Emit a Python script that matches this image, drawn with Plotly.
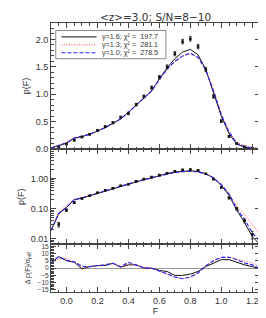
import plotly.graph_objects as go
from plotly.subplots import make_subplots

# ---- data ----
F_data = [-0.05, 0.0, 0.05, 0.1, 0.15, 0.2, 0.25, 0.3, 0.35, 0.4, 0.45, 0.5, 0.55,
          0.6, 0.65, 0.7, 0.75, 0.8, 0.85, 0.9, 0.95, 1.0, 1.05, 1.1, 1.15, 1.2, 1.25]
p_data = [0.03, 0.09, 0.16, 0.22, 0.27, 0.34, 0.41, 0.48, 0.58, 0.65, 0.81, 0.96, 1.12,
          1.31, 1.50, 1.74, 1.96, 2.01, 1.87, 1.45, 0.96, 0.51, 0.23, 0.10, 0.040, 0.014, 0.009]
p_err = [0.005, 0.008, 0.010, 0.012, 0.013, 0.015, 0.017, 0.019, 0.021, 0.023, 0.025, 0.027, 0.030,
         0.032, 0.035, 0.038, 0.040, 0.040, 0.040, 0.038, 0.033, 0.026, 0.017, 0.010, 0.006, 0.004, 0.002]

F_model = [-0.1, -0.05, 0.0, 0.05, 0.1, 0.15, 0.2, 0.25, 0.3, 0.35, 0.4, 0.45, 0.5, 0.55,
           0.6, 0.65, 0.7, 0.75, 0.8, 0.85, 0.9, 0.95, 1.0, 1.05, 1.1, 1.15, 1.2, 1.25]
p_g16 = [0.019, 0.07, 0.11, 0.20, 0.226, 0.27, 0.33, 0.39, 0.47, 0.55, 0.67, 0.80, 0.92, 1.06,
         1.28, 1.48, 1.65, 1.77, 1.82, 1.72, 1.45, 1.04, 0.60, 0.28, 0.09, 0.035, 0.012, 0.0065]
p_g13 = [0.020, 0.075, 0.13, 0.21, 0.235, 0.275, 0.33, 0.39, 0.47, 0.55, 0.67, 0.80, 0.93, 1.07,
         1.27, 1.45, 1.59, 1.69, 1.74, 1.67, 1.45, 1.08, 0.64, 0.32, 0.12, 0.065, 0.030, 0.014]
p_g10 = [0.019, 0.07, 0.11, 0.20, 0.23, 0.27, 0.33, 0.39, 0.47, 0.55, 0.67, 0.80, 0.92, 1.06,
         1.27, 1.46, 1.60, 1.70, 1.75, 1.67, 1.44, 1.06, 0.63, 0.31, 0.10, 0.045, 0.016, 0.008]

d_g16 = [3.6, 8.0, 5.2, 4.1, -0.5, 1.1, 1.8, 1.8, 3.4, 0.7, 2.3, 2.3, 0.2, 0.0,
         -1.6, -2.3, -5.0, -5.0, -4.1, -2.3, 1.1, 3.6, 5.9, 5.9, 4.1, 2.3, 1.1, -0.5]
d_g13 = [3.0, 6.5, 6.8, 3.6, 0.7, 1.1, 1.8, 2.0, 3.2, 1.0, 3.0, 2.5, 0.5, 0.0,
         -2.2, -4.2, -6.3, -7.3, -6.4, -3.6, 1.5, 5.0, 7.3, 7.6, 6.4, 4.8, 3.6, 0.5]
d_g10 = [3.6, 8.0, 5.5, 4.5, 1.3, 1.1, 1.8, 2.3, 3.4, 1.0, 4.1, 2.3, 0.2, 0.0,
         -1.8, -3.9, -6.1, -7.3, -6.1, -3.4, 1.8, 5.2, 7.5, 7.5, 5.9, 3.6, 2.3, -0.5]

labels = ["γ=1.6; χ² =  197.7", "γ=1.3; χ² =  281.1", "γ=1.0; χ² =  278.5"]
title_text = "&lt;z&gt;=3.0; S/N=8−10"

x_ticks = [0.0, 0.2, 0.4, 0.6, 0.8, 1.0, 1.2]
y1_ticks = [0.0, 0.5, 1.0, 1.5, 2.0]
y2_ticks = [0.01, 0.1, 1.0]
y2_ticktext = ["0.01", "0.10", "1.00"]
y3_ticks = [-15, -10, -5, 0, 5, 10, 15]

# ---- styles ----
FONT = "Liberation Sans, Arial, sans-serif"
TFONT = "DejaVu Sans, sans-serif"
AX = "#444444"
TXT = "#333333"
styles = [
    dict(color="#111111", width=1.0, dash="solid"),
    dict(color="#ff4040", width=1.0, dash="1px,1.5px"),
    dict(color="#2020ff", width=1.1, dash="4px,2px"),
]
models = [p_g16, p_g13, p_g10]
resids = [d_g16, d_g13, d_g10]

fig = make_subplots(rows=3, cols=1, shared_xaxes=True, vertical_spacing=0,
                    row_heights=[127, 96, 48])

for row in (1, 2):
    for m, st in zip(models, styles):
        fig.add_trace(go.Scatter(x=F_model, y=m, mode="lines", line=st,
                                 showlegend=False, hoverinfo="skip"), row=row, col=1)
    fig.add_trace(go.Scatter(x=F_data, y=p_data, mode="markers",
                             marker=dict(symbol="square", size=2.6, color="#111111"),
                             error_y=dict(type="data", array=p_err, color="#111111",
                                          thickness=0.8, width=1.3),
                             showlegend=False), row=row, col=1)

for d, st in zip(resids, styles):
    fig.add_trace(go.Scatter(x=F_model, y=d, mode="lines", line=st,
                             showlegend=False), row=3, col=1)

axcommon = dict(showgrid=False, zeroline=False, showline=True, linecolor=AX, linewidth=1,
                mirror="ticks", ticks="inside", ticklen=5, tickcolor=AX, tickwidth=0.8,
                tickfont=dict(family=FONT, size=9, color=TXT))

for r in (1, 2, 3):
    fig.update_xaxes(**axcommon, range=[-0.1, 1.25], tickvals=x_ticks,
                     minor=dict(ticks="inside", ticklen=2.5, dtick=0.05, tickcolor=AX),
                     row=r, col=1)
fig.update_xaxes(ticktext=[f"{v:.1f}" for v in x_ticks], showticklabels=True,
                 title=dict(text="F", font=dict(family=FONT, size=9, color=TXT), standoff=2),
                 row=3, col=1)

fig.update_yaxes(**axcommon, range=[0, 2.3], tickvals=y1_ticks,
                 ticktext=[f"{v:.1f}" for v in y1_ticks],
                 minor=dict(ticks="inside", ticklen=2.5, dtick=0.1, tickcolor=AX),
                 title=dict(text="p(F)", font=dict(family=FONT, size=9, color=TXT), standoff=4),
                 row=1, col=1)
fig.update_yaxes(**axcommon, type="log", range=[-2.18, 0.98], tickvals=y2_ticks,
                 ticktext=y2_ticktext,
                 minor=dict(ticks="inside", ticklen=2.5, tickcolor=AX,
                            tickvals=[k * 10 ** e for e in (-3, -2, -1, 0) for k in range(2, 10)]),
                 title=dict(text="p(F)", font=dict(family=FONT, size=9, color=TXT), standoff=4),
                 row=2, col=1)
fig.update_yaxes(**axcommon, range=[-16.5, 16.5], tickvals=y3_ticks,
                 minor=dict(ticks="inside", ticklen=2.5, dtick=1, tickcolor=AX),
                 row=3, col=1)
fig.update_yaxes(tickfont=dict(family=FONT, size=6.5, color=TXT),
                 title=dict(text="Δ p(F)/σ<sub>pdf</sub>", font=dict(family=FONT, size=7, color=TXT),
                            standoff=6),
                 zeroline=True, zerolinecolor="#999999", zerolinewidth=1, row=3, col=1)

# ---- hand-made compact legend (paper coords) ----
W, H = 220.0, 271.0
def px(x):
    return (x - 32) / W
def py(y):
    return (286 - y) / H

fig.add_shape(type="rect", xref="paper", yref="paper",
              x0=px(37), x1=px(153), y0=py(51), y1=py(22.5),
              line=dict(color="#888888", width=1), fillcolor="white", layer="above")
rows_y = [29, 37, 45]
for lab, st, yy in zip(labels, styles, rows_y):
    fig.add_shape(type="line", xref="paper", yref="paper",
                  x0=px(43), x1=px(80), y0=py(yy), y1=py(yy), line=st, layer="above")
    fig.add_annotation(xref="paper", yref="paper", x=px(84), y=py(yy), text=lab,
                       showarrow=False, xanchor="left", yanchor="middle",
                       font=dict(family=FONT, size=7.2, color=TXT))

fig.update_layout(
    width=266, height=318,
    margin=dict(l=32, r=14, t=15, b=32),
    paper_bgcolor="white", plot_bgcolor="white",
    showlegend=False,
    title=dict(text=title_text, x=0.5, xref="paper", y=1 - 9 / 318, yref="container",
               xanchor="center", yanchor="middle",
               font=dict(family=TFONT, size=10.5, color=TXT)),
)

fig.write_html("out.html")
